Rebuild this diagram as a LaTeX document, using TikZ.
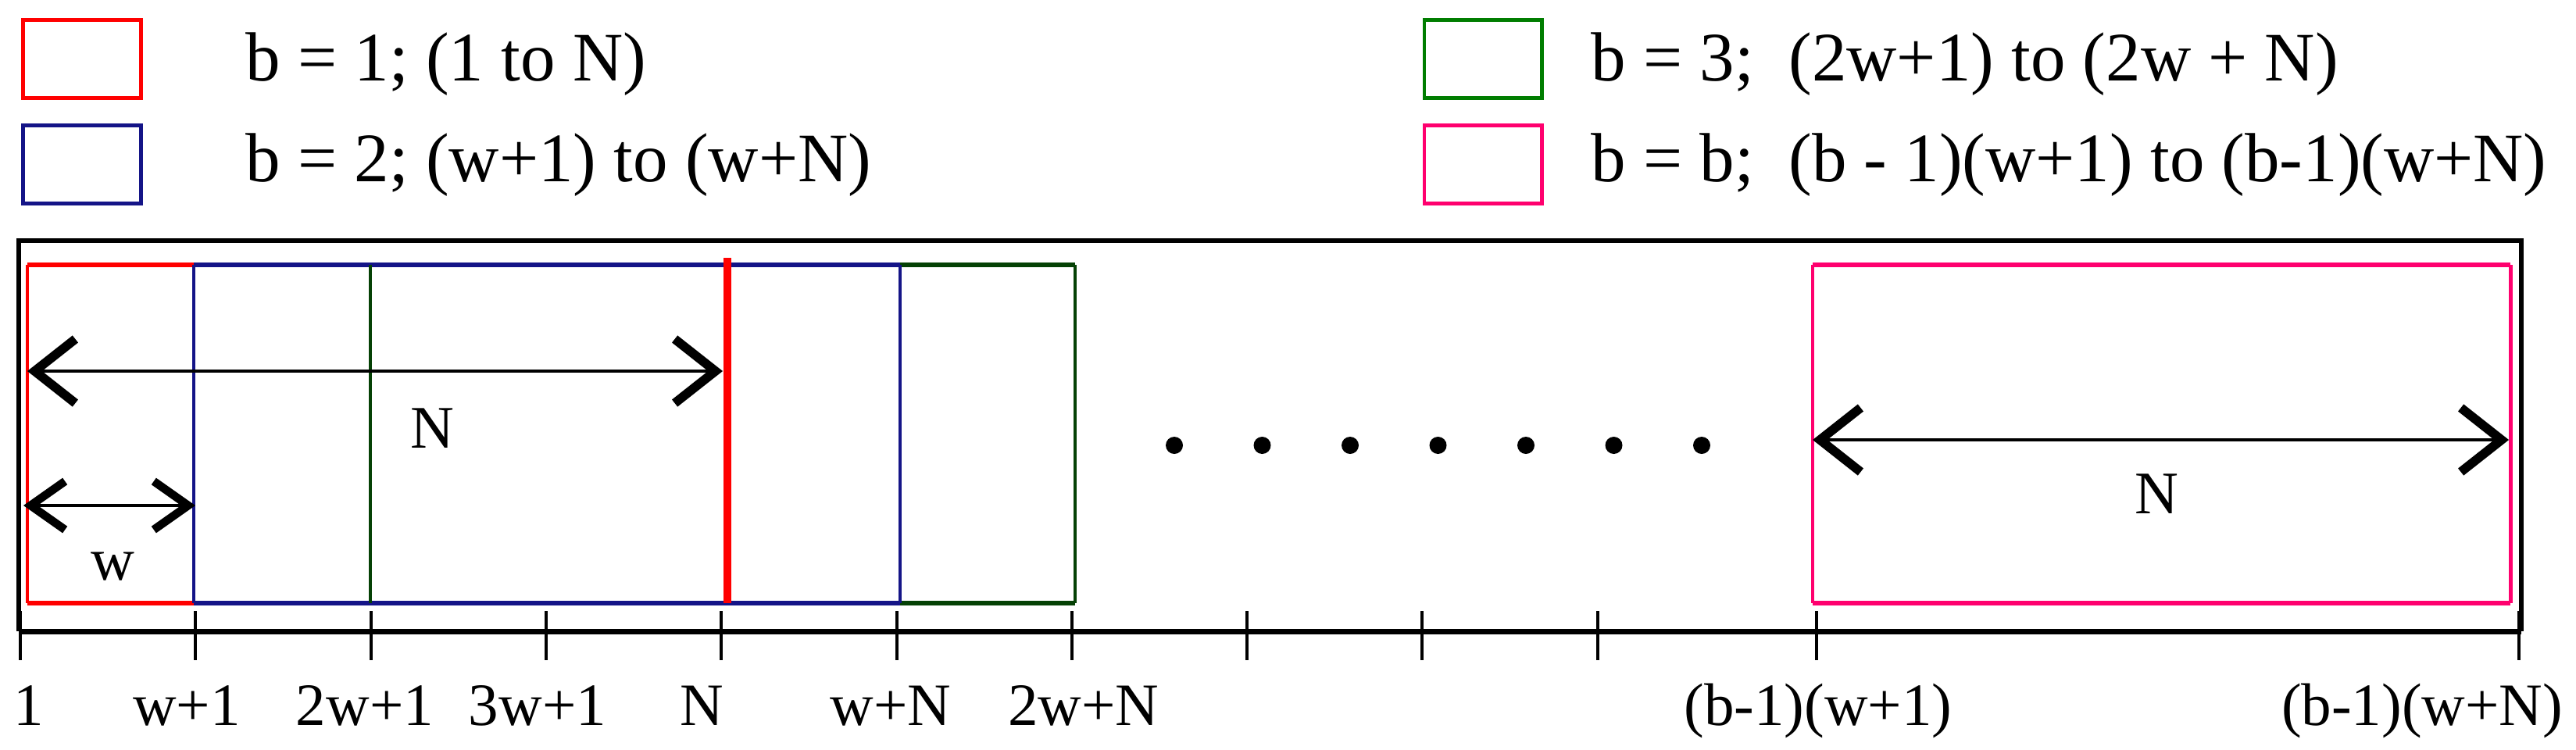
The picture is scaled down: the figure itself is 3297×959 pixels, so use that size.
\documentclass[tikz,border=0pt]{standalone}
\usepackage{fontspec}
\setmainfont{Liberation Serif}
\usetikzlibrary{arrows.meta}
\definecolor{cred}{RGB}{255,0,0}
\definecolor{cblue}{RGB}{20,20,135}
\definecolor{cgreenL}{RGB}{0,125,0}
\definecolor{cgreen}{RGB}{5,65,5}
\definecolor{cpink}{RGB}{255,0,110}
\tikzset{
  legbox/.style={draw, line width=1.4pt, minimum width=1.5cm, minimum height=1cm, inner sep=0pt},
  legtext/.style={anchor=base west, inner sep=0pt, font=\fontsize{25.3}{30}\selectfont},
  ticklabel/.style={anchor=base, inner sep=0pt, font=\fontsize{21.9}{26}\selectfont},
  dimlabel/.style={anchor=base, inner sep=0pt, font=\fontsize{22}{26}\selectfont},
  sideline/.style={line width=1.15pt},
  edgeline/.style={line width=1.8pt},
  framel/.style={line width=1.7pt, black},
  axisl/.style={line width=2pt, black},
  tickl/.style={line width=1.1pt, black},
  bigtip/.tip={Straight Barb[length=5.2mm, width=8.2mm, line width=3.3pt]},
  smalltip/.tip={Straight Barb[length=4.4mm, width=6.2mm, line width=3pt]},
  dimarrow/.style={line width=1.3pt, black, bigtip-bigtip},
  smallarrow/.style={line width=1.3pt, black, smalltip-smalltip},
}
\begin{document}
\begin{tikzpicture}[x=0.01cm, y=-0.01cm]
\useasboundingbox (0,0) rectangle (3297,959);

% legend
\node[legbox, draw=cred]    (lgR) at (105,75.5) {};
\node[legbox, draw=cblue]   (lgB) at (105,210.5) {};
\node[legbox, draw=cgreenL] (lgG) at (1898,75.5) {};
\node[legbox, draw=cpink]   (lgP) at (1898,210.5) {};
\node[legtext] (tR) at (314,103) {b = 1; (1 to N)};
\node[legtext] (tB) at (314,232) {b = 2; (w+1) to (w+N)};
\node[legtext] (tG) at (2036,103) {b = 3;\ \ (2w+1) to (2w + N)};
\node[legtext] (tP) at (2036,232) {b = b;\ \ (b - 1)(w+1) to (b-1)(w+N)};

% outer frame and axis
\draw[framel] (24,808) -- (24,308) -- (3227,308) -- (3227,808);
\draw[axisl] (24,808) -- (3227,808);
\foreach \x in {26,250,475,699,923,1148,1372,1596,1820,2045,2325,3224}
  \draw[tickl] (\x,782) -- (\x,845);

% red block (b=1)
\draw[cred, sideline] (35,339) -- (35,772);
\draw[cred, edgeline] (35,339) -- (931,339);
\draw[cred, edgeline] (35,772) -- (931,772);
% green block (b=3)
\draw[cgreen, sideline] (1376,339) -- (1376,772);
\draw[cgreen, edgeline] (474,339) -- (1376,339);
\draw[cgreen, edgeline] (474,772) -- (1376,772);
% blue block (b=2)
\draw[cblue, sideline] (248,339) -- (248,772);
\draw[cblue, sideline] (1152,339) -- (1152,772);
\draw[cblue, edgeline] (248,339) -- (1152,339);
\draw[cblue, edgeline] (248,772) -- (1152,772);
% overdrawn verticals
\draw[cgreen, line width=1.4pt] (474,339) -- (474,772);
\draw[cred, line width=3.1pt] (931,330) -- (931,772);
% pink block (b=b)
\draw[cpink, line width=1.4pt] (2320,339) -- (2320,772);
\draw[cpink, line width=1.4pt] (3213,339) -- (3213,772);
\draw[cpink, edgeline] (2320,339) -- (3213,339);
\draw[cpink, edgeline] (2320,772) -- (3213,772);

% dimension arrows
\coordinate (nA) at (35,475);
\coordinate (nB) at (925,475);
\coordinate (wA) at (30,647);
\coordinate (wB) at (250,647);
\coordinate (pA) at (2320,563);
\coordinate (pB) at (3211,563);
\draw[dimarrow] (nA) -- (nB);
\draw[smallarrow] (wA) -- (wB);
\draw[dimarrow] (pA) -- (pB);
\node[dimlabel] (nlab) at (553,573) {N};
\node[dimlabel] (wlab) at (144,742) {w};
\node[dimlabel] (plab) at (2760,657) {N};

% dots
\foreach \k in {0,...,6}
  \fill (1503+112.5*\k,570) circle[radius=0.11cm];

% tick labels
\node[ticklabel] (k1) at (37,928) {1};
\node[ticklabel] (k2) at (239,928) {w+1};
\node[ticklabel] (k3) at (467,928) {2w+1};
\node[ticklabel] (k4) at (688,928) {3w+1};
\node[ticklabel] (k5) at (898,928) {N};
\node[ticklabel] (k6) at (1140,928) {w+N};
\node[ticklabel] (k7) at (1387,928) {2w+N};
\node[ticklabel] (k8) at (2327,928) {(b-1)(w+1)};
\node[ticklabel] (k9) at (3100,928) {(b-1)(w+N)};
\end{tikzpicture}
\end{document}
